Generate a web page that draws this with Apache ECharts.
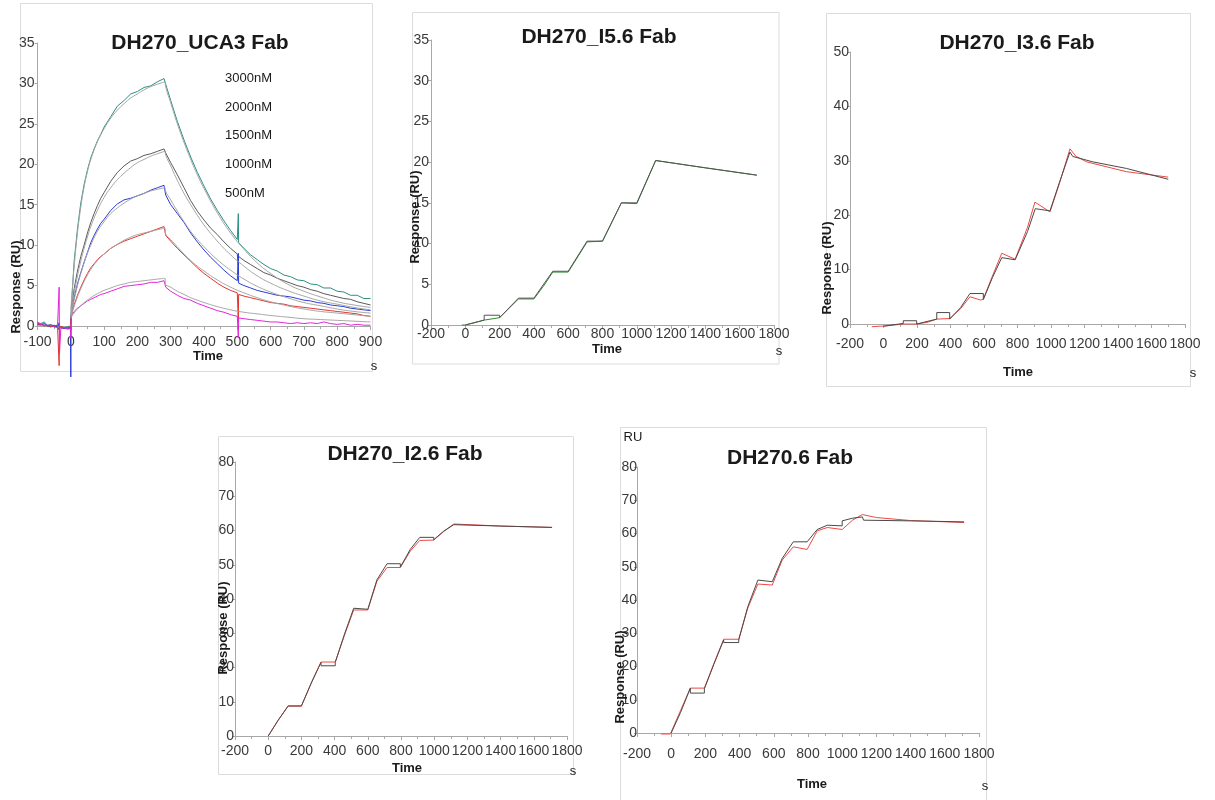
<!DOCTYPE html>
<html><head><meta charset="utf-8">
<script src="https://cdn.jsdelivr.net/npm/echarts@6/dist/echarts.min.js"></script>
<style>html,body{margin:0;padding:0;background:#fff}#c{width:1215px;height:800px}</style>
</head><body><div id="c"></div>
<script>
// ---------- Panel 1: DH270_UCA3 Fab (multi-cycle) ----------
const ucaTime = [-100,-90,-80,-70,-60,-50,-40,-36,-35,-34,-30,-20,-10,-1,0,1,5,10,20,30,40,50,60,70,80,90,100,120,140,160,180,200,220,240,260,280,285,300,320,340,360,380,400,420,440,460,480,500,502,503,504,520,540,560,580,600,620,640,660,680,700,720,740,760,780,800,820,840,860,880,900];
const uca3000 = [0.4,0.3,0.5,0.1,0.2,0.0,0.1, 0.0,0.3,0.0, -0.1,-0.2,-0.1,0.0, 0.0,1.8,4.6,8.0, 12.0,15.2,17.5,19.3,20.8,21.9,22.9,23.7,24.6, 25.9,27.2,27.9,28.7,29.0,29.5,29.7,30.2,30.6, 29.9, 27.9,25.3,23.0,20.9,19.0,17.3,15.7,14.3,13.0,11.8,10.7, 10.5,13.9,10.3, 9.6,8.8,8.2,7.6,7.1, 6.8,6.3,6.1,5.7,5.6, 5.2,5.1,4.7,4.7,4.3, 4.2,3.8,3.8,3.4,3.4];
const uca2000 = [0.3,0.2,0.1,0.0,0.1,-0.1,0.0, 0.0,-0.5,0.0, -0.2,-0.3,-0.2,-0.2, 0.0,1.2,2.8,4.6, 6.8,8.6,10.0,11.5,12.8,13.9,14.9,15.8,16.5, 17.9,19.0,19.8,20.4,20.7,21.1,21.3,21.6,21.9, 21.4, 20.2,18.7,17.1,15.5,14.2,13.1,12.1,11.3,10.4,9.6,8.9, 8.8,7.5,8.6, 8.1,7.6,7.1,6.6,6.3, 5.9,5.6,5.3,5.0,4.8, 4.5,4.3,4.0,3.8,3.6, 3.4,3.3,3.0,2.8,2.6];
const uca1500 = [0.2,0.1,0.3,0.0,-0.1,0.1,-0.1, 0.0,0.4,-0.2, -0.2,-0.3,-0.3,-0.3, -6.3,1.0,2.4,3.5, 5.2,6.6,7.9,9.1,10.3,11.2,12.0,12.7,13.2, 14.3,15.1,15.6,15.8,16.1,16.4,16.8,17.1,17.4, 16.2, 15.0,13.9,12.8,11.5,10.4,9.4,8.5,7.7,6.9,6.2,5.6, 5.5,9.0,5.3, 5.0,4.7,4.4,4.2,4.0, 3.8,3.7,3.6,3.4,3.2, 3.1,2.9,2.8,2.6,2.5, 2.4,2.2,2.1,2.0,1.9];
const uca1000 = [0.1,0.2,0.0,0.1,-0.1,0.0,0.1, 0.0,-4.9,0.0, -0.1,-0.2,-0.2,-0.1, 0.0,1.0,1.9,2.6, 3.8,4.8,5.7,6.5,7.2,7.7,8.2,8.6,8.9, 9.6,10.1,10.5,10.8,11.1,11.4,11.7,12.0,12.3, 11.2, 10.5,9.6,8.8,8.0,7.2,6.5,5.9,5.3,4.8,4.4,4.1, 4.0,0.5,3.9, 3.7,3.5,3.3,3.1,2.9, 2.8,2.7,2.5,2.4,2.3, 2.2,2.1,2.0,1.9,1.8, 1.7,1.6,1.5,1.3,1.2];
const uca500 = [0.5,0.2,0.3,0.0,0.1,-0.1,-0.2, 0.0,4.8,-3.5, -0.3,-0.2,-0.4,-0.3, -1.5,1.2,1.5,1.8, 2.2,2.5,2.8,3.1,3.3,3.5,3.7,3.9,4.0, 4.3,4.6,4.9,5.0,5.1,5.2,5.4,5.4,5.6, 4.8, 4.3,3.8,3.4,3.2,2.8,2.5,2.2,1.9,1.7,1.4,1.2, 1.1,-1.5,1.0, 0.9,0.8,0.7,0.6,0.5, 0.5,0.4,0.3,0.4,0.3, 0.4,0.3,0.5,0.3,0.2, 0.3,0.1,0.2,0.1,0.1];
const ucaFitTime = [0,5,10,20,30,40,50,60,80,100,120,140,160,180,200,220,240,260,283,284,300,320,340,360,380,400,440,480,520,560,600,650,700,750,800,850,900];
const fit3000 = [2.0,4.8,7.3,11.5,14.7,17.2,19.1,20.6, 22.8,24.4,25.7,26.7,27.5,28.2,28.7,29.2,29.6,29.9, 30.2,29.8, 27.6,25.0,22.7,20.6,18.7,17.0, 14.0,11.5,9.5,7.8,6.5, 5.2,4.3,3.6,3.0,2.6,2.3];
const fit2000 = [1.5,2.8,4.0,6.2,8.0,9.6,11.0,12.3, 14.3,15.9,17.1,18.1,18.9,19.6,20.2,20.6,21.0,21.3, 21.6,21.3, 19.8,18.0,16.4,15.0,13.7,12.5, 10.5,8.8,7.4,6.2,5.3, 4.4,3.7,3.1,2.7,2.3,2.0];
const fit1500 = [1.3,2.3,3.2,5.0,6.5,7.8,9.0,10.0, 11.7,12.9,13.9,14.6,15.2,15.7,16.1,16.4,16.7,16.9, 17.1,16.8, 15.6,14.2,12.9,11.7,10.7,9.8, 8.2,6.9,5.8,4.9,4.2, 3.5,2.9,2.5,2.1,1.8,1.6];
const fit1000 = [1.1,1.8,2.4,3.6,4.6,5.5,6.3,7.0, 8.1,8.9,9.6,10.1,10.6,11.0,11.3,11.5,11.7,11.9, 12.1,11.5, 10.7,9.8,8.9,8.1,7.4,6.8, 5.7,4.8,4.1,3.5,3.0, 2.5,2.1,1.8,1.6,1.4,1.2];
const fit500 = [0.9,1.3,1.6,2.1,2.5,2.9,3.2,3.5, 4.0,4.4,4.7,5.0,5.2,5.4,5.5,5.6,5.7,5.8, 5.9,5.2, 4.8,4.3,3.9,3.5,3.2,2.9, 2.4,2.0,1.7,1.5,1.3, 1.1,0.9,0.8,0.7,0.6,0.5];
const concLabels = ['3000nM','2000nM','1500nM','1000nM','500nM'];

// ---------- Panel 2: DH270_I5.6 Fab ----------
const p2DataT = [-20,0,110,200,310,400,460,510,600,710,800,910,1000,1110,1400,1700];
const p2DataV = [0.0,0.0,0.6,0.9,3.2,3.2,4.9,6.5,6.5,10.2,10.3,15.0,14.9,20.2,19.3,18.4];
const p2FitT = [0,110,110,200,200,310,400,510,600,710,800,910,1000,1110,1400,1700];
const p2FitV = [0.0,0.6,1.2,1.2,0.9,3.3,3.3,6.6,6.6,10.3,10.3,15.0,15.0,20.2,19.3,18.4];

// ---------- Panel 3: DH270_I3.6 Fab ----------
const p3DataT = [-70,-20,0,60,118,198,260,318,395,460,516,580,596,650,706,786,860,904,994,1050,1113,1150,1213,1450,1700];
const p3DataV = [-0.5,-0.4,-0.4,-0.2,0.0,0.0,0.3,0.9,1.0,2.8,5.0,4.4,4.6,8.8,13.0,11.9,17.8,22.4,20.6,25.8,32.2,30.8,29.8,28.0,27.0];
const p3FitT = [0,118,118,198,198,318,318,395,395,460,516,596,596,650,706,786,860,906,994,1050,1113,1130,1250,1450,1700];
const p3FitV = [-0.4,0.1,0.6,0.6,0.0,0.9,2.1,2.1,0.9,3.0,5.6,5.6,4.5,8.5,12.2,11.8,17.0,21.2,20.8,26.0,31.6,30.8,29.8,28.6,26.6];

// ---------- Panel 4: DH270_I2.6 Fab ----------
const p4DataT = [0,60,120,200,260,318,404,460,515,600,655,716,796,856,913,997,1057,1118,1400,1710];
const p4DataV = [0.0,4.6,8.7,8.7,15.6,21.6,21.6,29.5,36.8,36.8,45.2,49.2,49.2,54.0,57.1,57.2,59.7,61.9,61.3,60.9];
const p4FitT = [0,60,120,200,260,318,318,404,404,460,515,600,655,716,796,796,856,913,997,997,1057,1118,1400,1710];
const p4FitV = [0.0,4.6,8.8,8.8,15.5,21.5,20.5,20.5,21.5,29.8,37.3,37.0,45.6,50.3,50.3,49.3,54.5,58.0,58.0,57.3,59.8,61.7,61.3,60.9];

// ---------- Panel 5: DH270.6 Fab ----------
const p5DataT = [-60,-5,0,55,112,194,249,307,395,448,507,591,649,714,795,854,913,1000,1060,1118,1200,1400,1713];
const p5DataV = [-0.3,-0.3,0.0,6.8,13.5,13.5,20.8,28.2,28.2,37.6,44.8,44.5,52.0,56.0,55.2,60.8,61.8,61.2,64.0,65.7,64.8,63.9,63.3];
const p5FitT = [0,55,112,112,194,194,249,307,307,395,395,448,507,591,649,714,795,854,913,1000,1000,1060,1118,1125,1400,1713];
const p5FitV = [0.0,6.2,13.5,12.0,12.0,13.3,20.6,28.0,27.2,27.2,28.0,38.0,46.0,45.5,52.5,57.5,57.5,61.2,62.5,62.3,63.8,64.6,65.0,64.0,63.8,63.5];

// ---------- Axis tick settings ----------
const xRangeUCA = [-100, 900, 100];
const xRangeSCK = [-200, 1800, 200];
const yRanges = [[0,35,5],[0,35,5],[0,50,10],[0,80,10],[0,80,10]];
const titles = ['DH270_UCA3 Fab','DH270_I5.6 Fab','DH270_I3.6 Fab','DH270_I2.6 Fab','DH270.6 Fab'];

const FONT = '"Liberation Sans", Arial, sans-serif';
const pairs = (t, v) => t.map((x, i) => [x, v[i]]);
const plain = v => String(v);

const layout = [
  {grid:{left:37.5, top:43, width:333, height:283}, x:xRangeUCA, xm:9, ym:3},
  {grid:{left:431, top:40, width:343, height:285}, x:xRangeSCK, xm:2, ym:2},
  {grid:{left:850, top:52, width:335, height:272}, x:xRangeSCK, xm:13, ym:1},
  {grid:{left:235, top:462, width:332, height:274}, x:xRangeSCK, xm:8, ym:1},
  {grid:{left:637, top:467, width:342, height:266}, x:xRangeSCK, xm:14, ym:0}
];

const axisColor = '#a8a8a8';
const labelStyle = {color:'#3a3a3a', fontSize:14, fontFamily:FONT, formatter:plain};
const grids = [], xAxes = [], yAxes = [];
layout.forEach((p, i) => {
  grids.push(Object.assign({containLabel:false}, p.grid));
  xAxes.push({type:'value', gridIndex:i, min:p.x[0], max:p.x[1], interval:p.x[2],
    axisLine:{show:true, onZero:false, lineStyle:{color:axisColor, width:1}},
    axisTick:{show:true, length:4, lineStyle:{color:axisColor}},
    minorTick:{show:true, splitNumber:2, length:3, lineStyle:{color:axisColor}},
    axisLabel:Object.assign({margin:p.xm, hideOverlap:false, showMaxLabel:true, showMinLabel:true}, labelStyle),
    splitLine:{show:false}, minorSplitLine:{show:false}});
  yAxes.push({type:'value', gridIndex:i, min:yRanges[i][0], max:yRanges[i][1], interval:yRanges[i][2],
    axisLine:{show:true, onZero:false, lineStyle:{color:axisColor, width:1}},
    axisTick:{show:true, length:3, lineStyle:{color:axisColor}},
    axisLabel:Object.assign({margin:p.ym}, labelStyle),
    splitLine:{show:false}});
});

function line(idx, data, color, width, z, smooth) {
  return {type:'line', xAxisIndex:idx, yAxisIndex:idx, data:data, showSymbol:false, symbol:'none',
    clip:false, smooth:!!smooth, animation:false, z:z||2,
    lineStyle:{color:color, width:width||1}};
}

const ucaColors = ['#2b8f82','#5a5a5a','#2a3bd6','#e0352e','#e424dc'];
const ucaData = [uca3000, uca2000, uca1500, uca1000, uca500];
const ucaFits = [fit3000, fit2000, fit1500, fit1000, fit500];
const series = [];
ucaData.forEach((d, k) => series.push(line(0, pairs(ucaTime, d), ucaColors[k], 1, 2)));
ucaFits.forEach((d, k) => series.push(line(0, pairs(ucaFitTime, d), '#a5a5a5', 1, 3, 0.3)));
series.push(line(1, pairs(p2DataT, p2DataV), '#2f8a2f', 1, 2));
series.push(line(1, pairs(p2FitT, p2FitV), '#555555', 1, 3));
series.push(line(2, pairs(p3DataT, p3DataV), '#ee4a44', 1, 2));
series.push(line(2, pairs(p3FitT, p3FitV), '#4a4a4a', 1, 3));
series.push(line(3, pairs(p4DataT, p4DataV), '#ee4a44', 1, 2));
series.push(line(3, pairs(p4FitT, p4FitV), '#4a4a4a', 1, 3));
series.push(line(4, pairs(p5DataT, p5DataV), '#ee4a44', 1, 2));
series.push(line(4, pairs(p5FitT, p5FitV), '#4a4a4a', 1, 3));

// ---------- graphic texts and frames ----------
const frames = [[20.5,3.5,352,368],[412.5,12.5,366.5,351.5],[826.5,13.5,364,373],[218.5,436.5,355,338],[620.5,427.5,366,380]];
const titlePos = [[200,43],[599,37],[1017,43],[405,454],[790,458]];
const respPos = [[16,287],[415,217],[827,268],[223,628],[620,677]];
const timePos = [[208,356],[607,349],[1018,372],[407,768],[812,784]];
const sPos = [[374,366],[779,351],[1193,373],[573,771],[985,786]];
const graphics = [];
frames.forEach(f => graphics.push({type:'rect', shape:{x:f[0], y:f[1], width:f[2], height:f[3]},
  style:{fill:'none', stroke:'#dcdcdc', lineWidth:1}, silent:true, z:0}));
const txt = (s, x, y, font, align, rot) => ({type:'text', x:x, y:y, rotation:rot||0, z:10,
  style:{text:s, font:font, fill:'#1a1a1a', textAlign:align||'center', textVerticalAlign:'middle'}});
titles.forEach((t, i) => graphics.push(txt(t, titlePos[i][0], titlePos[i][1], 'bold 21px ' + FONT)));
respPos.forEach(p => graphics.push(txt('Response (RU)', p[0], p[1], 'bold 13px ' + FONT, 'center', Math.PI/2)));
timePos.forEach(p => graphics.push(txt('Time', p[0], p[1], 'bold 13px ' + FONT)));
sPos.forEach(p => graphics.push(txt('s', p[0], p[1], '13px ' + FONT)));
const concY = [78,107,135,164,193];
concLabels.forEach((c, k) => graphics.push(txt(c, 225, concY[k], '13px ' + FONT, 'left')));
graphics.push(txt('RU', 633, 437, '13px ' + FONT));

const chart = echarts.init(document.getElementById('c'));
chart.setOption({
  backgroundColor:'#ffffff',
  animation:false,
  grid:grids, xAxis:xAxes, yAxis:yAxes, series:series, graphic:graphics
});
</script></body></html>
